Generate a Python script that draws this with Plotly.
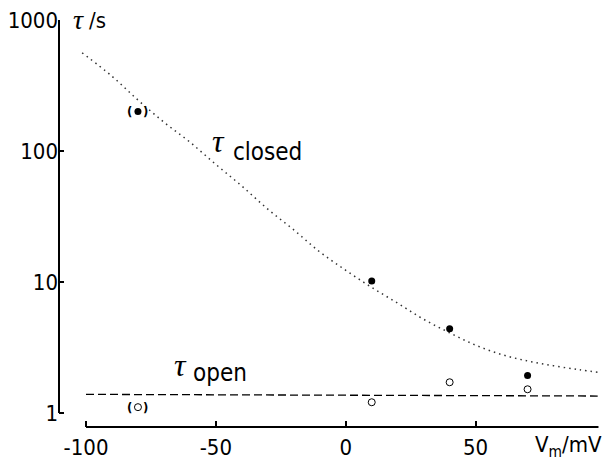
import numpy as np
import plotly.graph_objects as go

# ---- data ----
closed_x = [-80, 10, 40, 70]
closed_tau = [200, 10.2, 4.4, 1.94]
open_x = [-80, 10, 40, 70]
open_tau = [1.11, 1.21, 1.72, 1.52]

fit_closed_x = [-101.5, -90, -80, -70, -60, -50, -40, -30, -20, -10, 0, 10, 20, 30, 40, 50, 60, 70, 80, 90, 98]
fit_closed_tau = [562, 372, 245, 166, 117, 79, 54, 36, 25, 17, 12.3, 9.1, 6.9, 5.2, 4.1, 3.3, 2.8, 2.5, 2.3, 2.14, 2.04]
fit_open_x = [-100, 97]
fit_open_tau = [1.39, 1.35]

x_ticks = [-100, -50, 0, 50]
x_ticklabels = ["-100", "-50", "0", "50"]
y_ticks = [1, 10, 100, 1000]
y_ticklabels = ["1", "10", "100", "1000"]

FONT = "DejaVu Sans Condensed, Liberation Sans, Arial, sans-serif"
TAU_FONT = "Liberation Serif, DejaVu Serif, serif"

W, H = 606, 467
L, R, T, B = 59, 7, 20, 37
X_RANGE = [-110.4, 97.5]
Y_RANGE = [-0.106, 3.0]

fig = go.Figure()

fig.add_trace(go.Scatter(x=fit_closed_x, y=fit_closed_tau, mode="lines",
                         line=dict(color="#333333", width=1.5, dash="1.5px,4px", shape="spline"),
                         hoverinfo="skip", showlegend=False))
fig.add_trace(go.Scatter(x=fit_open_x, y=fit_open_tau, mode="lines",
                         line=dict(color="black", width=1.3, dash="8px,4px"),
                         hoverinfo="skip", showlegend=False))
fig.add_trace(go.Scatter(x=closed_x, y=closed_tau, mode="markers",
                         marker=dict(color="black", size=7, symbol="circle"),
                         showlegend=False))
fig.add_trace(go.Scatter(x=open_x, y=open_tau, mode="markers",
                         marker=dict(color="white", size=7, symbol="circle",
                                     line=dict(color="black", width=1)),
                         showlegend=False))

# axis lines as shapes (detached axes as in reference)
fig.add_shape(type="line", xref="paper", yref="y", x0=0, x1=0, y0=1, y1=1000,
              line=dict(color="black", width=2))
fig.add_shape(type="line", xref="x", yref="paper", x0=-100, x1=97.3, y0=0, y1=0,
              line=dict(color="black", width=2))

pw = W - L - R
ph = H - T - B


def xp(px):
    return (px - L) / pw


def yp(py):
    return (T + ph - py) / ph


ann = []
# parentheses around the -80 mV points
for xv, yv in [(closed_x[0], closed_tau[0]), (open_x[0], open_tau[0])]:
    for ch, sh in [("(", -8), (")", 8)]:
        ann.append(dict(x=xv, y=np.log10(yv), xref="x", yref="y", text="<b>" + ch + "</b>",
                        showarrow=False, xshift=sh,
                        font=dict(family=FONT, size=13, color="black")))

ann += [
    dict(x=xp(71), y=yp(19), xref="paper", yref="paper", xanchor="left", yanchor="middle",
         text="<i>τ</i>", showarrow=False, font=dict(family=TAU_FONT, size=28, color="black")),
    dict(x=xp(87), y=yp(21), xref="paper", yref="paper", xanchor="left", yanchor="middle",
         text="/s", showarrow=False, font=dict(family=FONT, size=22, color="black")),
    dict(x=xp(210), y=yp(142), xref="paper", yref="paper", xanchor="left", yanchor="middle",
         text="<i>τ</i>", showarrow=False, font=dict(family=TAU_FONT, size=32, color="black")),
    dict(x=xp(231), y=yp(153), xref="paper", yref="paper", xanchor="left", yanchor="middle",
         text="closed", showarrow=False, font=dict(family=FONT, size=24, color="black")),
    dict(x=xp(172), y=yp(368), xref="paper", yref="paper", xanchor="left", yanchor="middle",
         text="<i>τ</i>", showarrow=False, font=dict(family=TAU_FONT, size=32, color="black")),
    dict(x=xp(191), y=yp(376), xref="paper", yref="paper", xanchor="left", yanchor="middle",
         text="open", showarrow=False, font=dict(family=FONT, size=24, color="black")),
    dict(x=xp(604), y=yp(450), xref="paper", yref="paper", xanchor="right", yanchor="middle",
         text="V<sub>m</sub>/mV", showarrow=False, font=dict(family=FONT, size=22, color="black")),
]

fig.update_layout(
    width=W, height=H,
    margin=dict(l=L, r=R, t=T, b=B),
    paper_bgcolor="white", plot_bgcolor="white",
    annotations=ann,
    xaxis=dict(range=X_RANGE, tickvals=x_ticks, ticktext=x_ticklabels,
               ticks="inside", ticklen=6, tickwidth=2, tickcolor="black",
               showline=False, showgrid=False, zeroline=False,
               ticklabelstandoff=5,
               tickfont=dict(family=FONT, size=22, color="black")),
    yaxis=dict(type="log", range=Y_RANGE, tickvals=y_ticks, ticktext=y_ticklabels,
               ticks="inside", ticklen=5, tickwidth=2, tickcolor="black",
               showline=False, showgrid=False, zeroline=False,
               tickfont=dict(family=FONT, size=22, color="black")),
)

fig.write_html("out.html")
